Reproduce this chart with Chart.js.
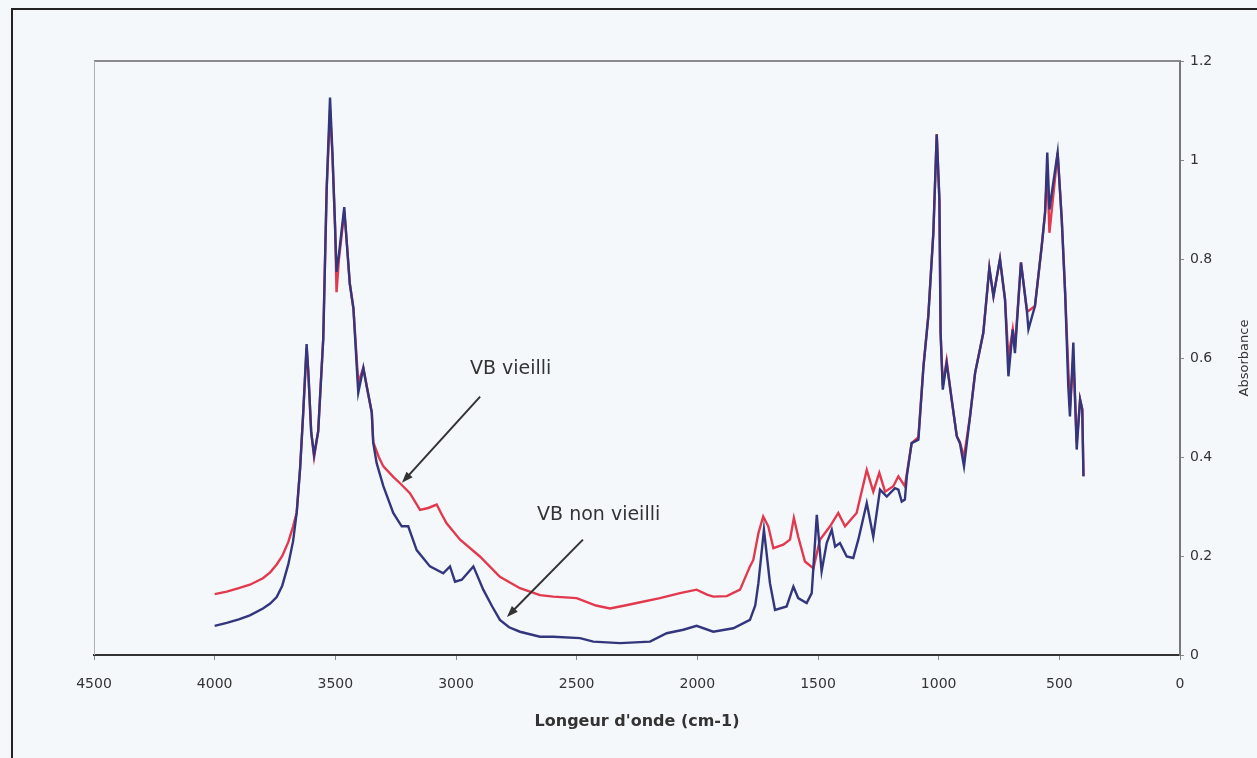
<!DOCTYPE html>
<html>
<head>
<meta charset="utf-8">
<script src="https://cdn.jsdelivr.net/npm/chart.js@4.4.1/dist/chart.umd.min.js"></script>
<style>
    html, body { margin: 0; padding: 0; background: #f4f8fa; }
    #wrap { width: 1257px; height: 758px; }
</style>
</head>
<body>
<div id="wrap"><canvas id="spectrumChart" width="1257" height="758"></canvas></div>
<script>
// IR spectra (wavenumber cm-1 / absorbance)
const agedWave = [4000, 3950, 3900, 3854, 3800, 3770, 3743, 3720, 3695, 3675, 3660, 3646, 3633, 3619, 3612, 3600, 3588, 3571, 3550, 3536, 3522, 3512, 3501, 3495, 3485, 3463, 3455, 3440, 3425, 3405, 3384, 3370, 3349, 3343, 3320, 3301, 3260, 3232, 3191, 3149, 3115, 3080, 3060, 3039, 2983, 2901, 2818, 2735, 2652, 2597, 2500, 2420, 2362, 2300, 2251, 2155, 2072, 2003, 1960, 1934, 1878, 1823, 1782, 1768, 1747, 1727, 1706, 1685, 1644, 1616, 1600, 1582, 1554, 1519, 1492, 1450, 1416, 1388, 1340, 1298, 1271, 1246, 1222, 1188, 1167, 1140, 1112, 1084, 1063, 1043, 1022, 1008, 997, 992, 983, 967, 946, 925, 912, 895, 870, 849, 815, 790, 773, 746, 725, 711, 693, 684, 659, 635, 628, 601, 573, 559, 550, 541, 507, 490, 476, 463, 456, 442, 428, 414, 405, 400];
const agedAbs = [0.123, 0.128, 0.135, 0.142, 0.155, 0.167, 0.183, 0.200, 0.228, 0.26, 0.288, 0.377, 0.49, 0.62, 0.572, 0.45, 0.40, 0.452, 0.64, 0.94, 1.10, 1.01, 0.864, 0.733, 0.80, 0.895, 0.85, 0.75, 0.70, 0.55, 0.58, 0.543, 0.49, 0.43, 0.40, 0.381, 0.36, 0.347, 0.327, 0.293, 0.297, 0.304, 0.285, 0.266, 0.233, 0.199, 0.158, 0.135, 0.121, 0.118, 0.115, 0.10, 0.094, 0.10, 0.105, 0.115, 0.125, 0.132, 0.122, 0.118, 0.119, 0.132, 0.179, 0.192, 0.246, 0.28, 0.26, 0.216, 0.223, 0.233, 0.277, 0.239, 0.189, 0.175, 0.233, 0.26, 0.287, 0.26, 0.287, 0.374, 0.33, 0.368, 0.33, 0.341, 0.361, 0.341, 0.428, 0.44, 0.583, 0.684, 0.853, 1.052, 0.92, 0.651, 0.545, 0.595, 0.516, 0.442, 0.43, 0.40, 0.482, 0.57, 0.651, 0.782, 0.725, 0.80, 0.718, 0.60, 0.658, 0.62, 0.793, 0.698, 0.695, 0.705, 0.826, 0.894, 0.98, 0.853, 1.015, 0.88, 0.732, 0.58, 0.50, 0.60, 0.43, 0.516, 0.496, 0.361];

const freshWave = [4000, 3950, 3900, 3854, 3800, 3770, 3743, 3720, 3695, 3675, 3660, 3646, 3633, 3619, 3612, 3600, 3588, 3571, 3550, 3536, 3522, 3512, 3501, 3495, 3485, 3463, 3455, 3440, 3425, 3405, 3384, 3370, 3349, 3343, 3329, 3301, 3260, 3225, 3198, 3163, 3108, 3053, 3025, 3004, 2976, 2928, 2887, 2850, 2818, 2780, 2735, 2652, 2597, 2486, 2431, 2320, 2196, 2127, 2058, 2003, 1934, 1851, 1782, 1760, 1747, 1724, 1699, 1678, 1630, 1602, 1582, 1547, 1526, 1505, 1485, 1464, 1443, 1429, 1409, 1381, 1354, 1333, 1298, 1271, 1243, 1215, 1181, 1167, 1153, 1140, 1132, 1112, 1084, 1063, 1043, 1022, 1008, 997, 992, 983, 967, 946, 925, 912, 895, 870, 849, 815, 790, 773, 746, 725, 711, 693, 684, 659, 635, 628, 601, 573, 559, 550, 541, 507, 490, 476, 463, 456, 442, 428, 414, 405, 400];
const freshAbs = [0.059, 0.065, 0.072, 0.080, 0.094, 0.104, 0.117, 0.140, 0.183, 0.23, 0.288, 0.377, 0.49, 0.628, 0.572, 0.45, 0.404, 0.452, 0.64, 0.94, 1.126, 1.014, 0.864, 0.774, 0.81, 0.905, 0.849, 0.75, 0.70, 0.53, 0.58, 0.543, 0.49, 0.429, 0.388, 0.341, 0.287, 0.26, 0.26, 0.212, 0.179, 0.165, 0.179, 0.148, 0.152, 0.179, 0.132, 0.098, 0.071, 0.056, 0.047, 0.037, 0.037, 0.034, 0.027, 0.024, 0.027, 0.044, 0.051, 0.059, 0.047, 0.054, 0.071, 0.10, 0.145, 0.253, 0.145, 0.091, 0.098, 0.138, 0.115, 0.105, 0.125, 0.283, 0.169, 0.226, 0.253, 0.219, 0.226, 0.199, 0.196, 0.233, 0.307, 0.239, 0.334, 0.32, 0.337, 0.334, 0.31, 0.314, 0.361, 0.428, 0.435, 0.583, 0.684, 0.853, 1.052, 0.92, 0.651, 0.536, 0.59, 0.516, 0.442, 0.428, 0.381, 0.482, 0.57, 0.651, 0.782, 0.725, 0.80, 0.718, 0.563, 0.658, 0.61, 0.793, 0.698, 0.658, 0.705, 0.826, 0.894, 1.015, 0.90, 1.015, 0.88, 0.732, 0.543, 0.482, 0.631, 0.415, 0.516, 0.496, 0.361];

const xTitle = "Longeur d'onde (cm-1)";
const yTitle = 'Absorbance';
// callouts: label, text anchor, arrow start, arrow tip (data units)
const callouts = [
    { text: 'VB vieilli', at: [2942, 0.577], from: [2900, 0.522], to: [3224, 0.348] },
    { text: 'VB non vieilli', at: [2664, 0.283], from: [2474, 0.233], to: [2789, 0.077] }
];

function toPoints(xs, ys) {
    return xs.map(function(x, i) { return { x: x, y: ys[i] }; });
}

const fontFamily = "'DejaVu Sans', Arial, sans-serif";

// page background, outer frame, plot frame
const framePlugin = {
    id: 'frame',
    beforeDraw: function(chart) {
        const ctx = chart.ctx;
        ctx.save();
        ctx.fillStyle = '#f4f8fa';
        ctx.fillRect(0, 0, chart.width, chart.height);
        ctx.strokeStyle = '#222';
        ctx.lineWidth = 2;
        ctx.beginPath();
        ctx.moveTo(12, chart.height);
        ctx.lineTo(12, 9);
        ctx.lineTo(chart.width, 9);
        ctx.stroke();
        ctx.restore();
    },
    beforeDatasetsDraw: function(chart) {
        const a = chart.chartArea;
        const ctx = chart.ctx;
        ctx.save();
        ctx.strokeStyle = '#8a8a8a';
        ctx.lineWidth = 2;
        ctx.beginPath();
        ctx.moveTo(a.left, a.top);
        ctx.lineTo(a.right, a.top);
        ctx.stroke();
        ctx.strokeStyle = '#b0b0b8';
        ctx.lineWidth = 1;
        ctx.beginPath();
        ctx.moveTo(a.left + 0.5, a.top);
        ctx.lineTo(a.left + 0.5, a.bottom);
        ctx.stroke();
        ctx.restore();
    }
};

// arrows with their labels, placed through the scales
const calloutPlugin = {
    id: 'callouts',
    afterDatasetsDraw: function(chart) {
        const ctx = chart.ctx;
        const xs = chart.scales.x;
        const ys = chart.scales.y;
        ctx.save();
        callouts.forEach(function(c) {
            const x0 = xs.getPixelForValue(c.from[0]), y0 = ys.getPixelForValue(c.from[1]);
            const x1 = xs.getPixelForValue(c.to[0]), y1 = ys.getPixelForValue(c.to[1]);
            const ang = Math.atan2(y1 - y0, x1 - x0);
            const head = 12;
            ctx.strokeStyle = '#333';
            ctx.fillStyle = '#333';
            ctx.lineWidth = 2;
            ctx.beginPath();
            ctx.moveTo(x0, y0);
            ctx.lineTo(x1 - Math.cos(ang) * head * 0.8, y1 - Math.sin(ang) * head * 0.8);
            ctx.stroke();
            ctx.beginPath();
            ctx.moveTo(x1, y1);
            ctx.lineTo(x1 - head * Math.cos(ang - 0.35), y1 - head * Math.sin(ang - 0.35));
            ctx.lineTo(x1 - head * Math.cos(ang + 0.35), y1 - head * Math.sin(ang + 0.35));
            ctx.closePath();
            ctx.fill();

            ctx.font = '19px ' + fontFamily;
            ctx.textAlign = 'left';
            ctx.textBaseline = 'middle';
            ctx.fillText(c.text, xs.getPixelForValue(c.at[0]), ys.getPixelForValue(c.at[1]));
        });
        // y axis title reads bottom to top
        const a = chart.chartArea;
        ctx.translate(1245, (a.top + a.bottom) / 2);
        ctx.rotate(-Math.PI / 2);
        ctx.font = '13px ' + fontFamily;
        ctx.textAlign = 'center';
        ctx.textBaseline = 'middle';
        ctx.fillText(yTitle, 0, 0);
        ctx.restore();
    }
};

const ctx = document.getElementById('spectrumChart').getContext('2d');
const spectrumChart = new Chart(ctx, {
    type: 'line',
    data: {
        datasets: [{
            label: 'VB non vieilli',
            data: toPoints(freshWave, freshAbs),
            borderColor: '#33367c',
            borderWidth: 2.4,
            pointRadius: 0,
            tension: 0,
            order: 0
        }, {
            label: 'VB vieilli',
            data: toPoints(agedWave, agedAbs),
            borderColor: '#e2394f',
            borderWidth: 2.4,
            pointRadius: 0,
            tension: 0,
            order: 1
        }]
    },
    options: {
        responsive: false,
        animation: false,
        devicePixelRatio: 1,
        layout: { padding: { left: 94, top: 61, right: 0, bottom: 0 } },
        plugins: {
            legend: { display: false },
            tooltip: { enabled: false }
        },
        scales: {
            x: {
                type: 'linear',
                reverse: true,
                min: 0,
                max: 4500,
                afterFit: function(scale) { scale.height = 103; },
                ticks: {
                    stepSize: 500,
                    padding: 16,
                    color: '#333',
                    font: { family: fontFamily, size: 14 },
                    maxRotation: 0,
                    callback: function(value) { return String(value); }
                },
                grid: { drawOnChartArea: false, tickLength: 5, color: '#888' },
                border: { color: '#333', width: 2 },
                title: {
                    display: true,
                    text: xTitle,
                    color: '#333',
                    font: { family: fontFamily, size: 16, weight: 'bold' },
                    padding: { top: 0, bottom: 27 }
                }
            },
            y: {
                position: 'right',
                min: 0,
                max: 1.2,
                afterFit: function(scale) { scale.width = 77; },
                ticks: {
                    stepSize: 0.2,
                    padding: 6,
                    color: '#333',
                    font: { family: fontFamily, size: 14 },
                    callback: function(value) { return String(Number(value.toFixed(1))); }
                },
                grid: { drawOnChartArea: false, tickLength: 4, color: '#888' },
                border: { color: '#777', width: 2 }
            }
        }
    },
    plugins: [framePlugin, calloutPlugin]
});
</script>
</body>
</html>
